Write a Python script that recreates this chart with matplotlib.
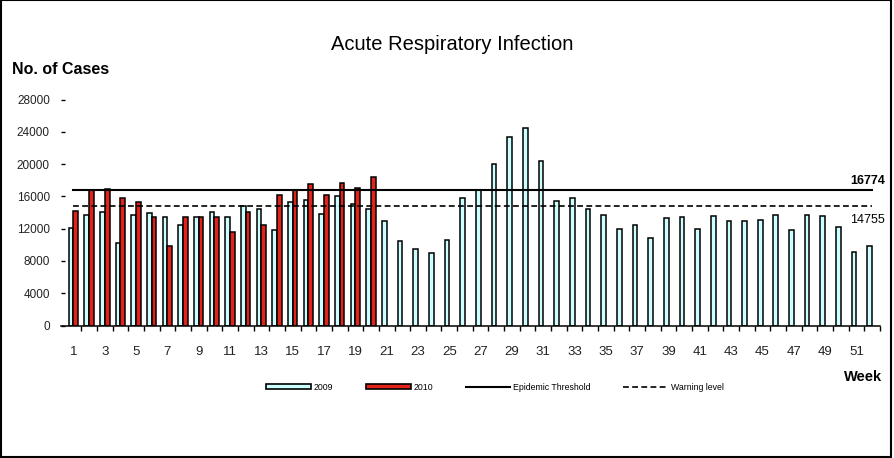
import matplotlib
matplotlib.use("Agg")
import matplotlib.pyplot as plt
from matplotlib.patches import Rectangle, Patch
from matplotlib.lines import Line2D
import numpy as np

# weekly case counts
weeks = list(range(1, 53))
cases_2009 = [12100, 13700, 14100, 10200, 13700, 14000, 13400, 12500, 13500, 14100,
              13500, 14800, 14400, 11800, 15300, 15500, 13800, 16100, 15000, 14500,
              12950, 10500, 9500, 9000, 10650, 15800, 16800, 20050, 23400, 24500,
              20400, 15450, 15750, 14400, 13700, 12000, 12500, 10900, 13350, 13500,
              12000, 13600, 13000, 13000, 13100, 13700, 11850, 13700, 13600, 12250,
              9050, 9900]
weeks_2010 = list(range(1, 21))
cases_2010 = [14200, 16750, 16900, 15850, 15350, 13400, 9800, 13500, 13500, 13400,
              11650, 14050, 12400, 16200, 16750, 17600, 16200, 17700, 17100, 18450]
epidemic_threshold = 16774
warning_level = 14755
y_ticks = [0, 4000, 8000, 12000, 16000, 20000, 24000, 28000]
x_labels = list(range(1, 52, 2))

c2009 = '#CCFFFF'
c2010 = '#E2231A'
font = ['Liberation Sans', 'DejaVu Sans']

fig = plt.figure(figsize=(8.94, 4.58), dpi=100)
fig.patch.set_facecolor('white')
ax = fig.add_axes([0.0682, 0.2893, 0.9161, 0.4932])

w = 0.3
ax.bar(np.array(weeks) - w / 2, cases_2009, width=w, color=c2009,
       edgecolor='black', linewidth=1.1, zorder=2)
ax.bar(np.array(weeks_2010) + w / 2, cases_2010, width=w, color=c2010,
       edgecolor='black', linewidth=1.1, zorder=2)

ax.plot([weeks[0], weeks[-1]], [epidemic_threshold] * 2, color='black', lw=1.5, zorder=3)
ax.plot([weeks[0], weeks[-1]], [warning_level] * 2, color='black', lw=1.2,
        linestyle=(0, (3.5, 2)), zorder=3)

ax.set_xlim(0.2, 52.5)
ax.set_ylim(0, 28000)

for s in ['top', 'right', 'left']:
    ax.spines[s].set_visible(False)
ax.spines['bottom'].set_linewidth(1.1)

ax.set_yticks(y_ticks)
ax.set_yticklabels([str(v) for v in y_ticks], fontsize=8.5, family=font, color='#222222')
ax.tick_params(axis='y', direction='in', length=3, width=1, pad=8)

ax.set_xticks(x_labels)
ax.set_xticklabels([str(v) for v in x_labels], fontsize=9.5, family=font, color='#222222')
ax.set_xticks(np.arange(1.5, 53, 1), minor=True)
ax.tick_params(axis='x', which='major', length=0, pad=15)
ax.tick_params(axis='x', which='minor', direction='out', length=3.5, width=1)

# texts
fig.text(452 / 894, 1 - 45 / 458, 'Acute Respiratory Infection', ha='center', va='center',
         fontsize=14.5, family=font)
fig.text(12 / 894, 1 - 70 / 458, 'No. of Cases', ha='left', va='center',
         fontsize=11.5, fontweight='bold', family=font)
fig.text(882 / 894, 1 - 377 / 458, 'Week', ha='right', va='center',
         fontsize=10.5, fontweight='bold', family=font)
fig.text(885 / 894, 1 - 181 / 458, str(epidemic_threshold), ha='right', va='center',
         fontsize=9, fontweight='bold', family=font)
fig.text(885 / 894, 1 - 220 / 458, str(warning_level), ha='right', va='center',
         fontsize=9, family=font)

# legend
handles = [
    Patch(facecolor=c2009, edgecolor='black', linewidth=1.2),
    Patch(facecolor=c2010, edgecolor='black', linewidth=1.2),
    Line2D([], [], color='black', lw=1.5),
    Line2D([], [], color='black', lw=1.2, linestyle=(0, (3.5, 2))),
]
labels = ['2009', '2010', 'Epidemic Threshold', 'Warning level']
fig.legend(handles, labels, loc='center', bbox_to_anchor=(495 / 894, 1 - 387 / 458),
           ncol=4, frameon=False, prop={'family': font, 'size': 6.3},
           handlelength=5.1, handleheight=0.55, handletextpad=0.35,
           columnspacing=3.7, borderpad=0)

# outer border
fig.patches.append(Rectangle((0.0008, 0.0022), 0.9958, 0.9968, transform=fig.transFigure,
                             fill=False, edgecolor='black', linewidth=1.5))

fig.savefig('out.png', dpi=100)
